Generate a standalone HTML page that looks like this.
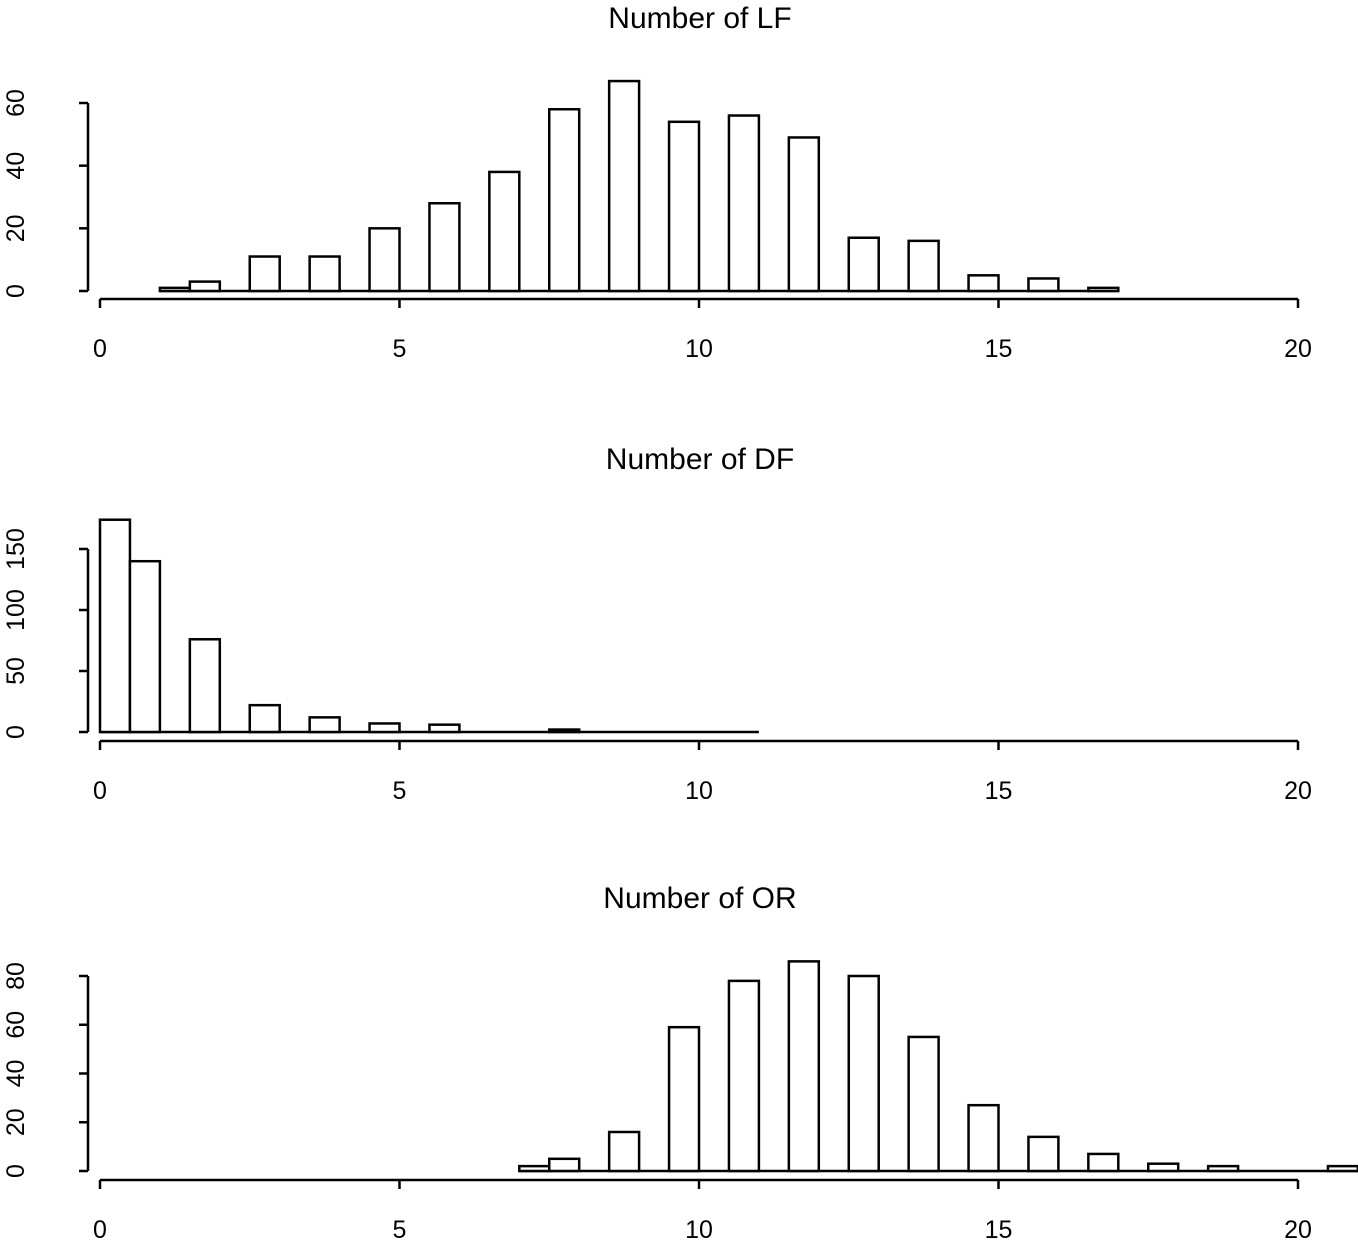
<!DOCTYPE html>
<html><head><meta charset="utf-8"><style>
html,body{margin:0;padding:0;background:#fff;}
svg{display:block;font-family:"Liberation Sans",sans-serif;}
</style></head><body>
<svg id="chart" width="1358" height="1243" xmlns="http://www.w3.org/2000/svg"></svg>
<script>
// Data
const lfStart = 1;
const lfCounts = [1,3,0,11,0,11,0,20,0,28,0,38,0,58,0,67,0,54,0,56,0,49,0,17,0,16,0,5,0,4,0,1];
const dfStart = 0;
const dfCounts = [174,140,0,76,0,22,0,12,0,7,0,6,0,0,0,2,0,0,0,0,0,0];
const orStart = 7;
const orCounts = [2,5,0,16,0,59,0,78,0,86,0,80,0,55,0,27,0,14,0,7,0,3,0,2,0,0,0,2];
const binWidth = 0.5;
const xTicks = [0,5,10,15,20];
const lfYTicks = [0,20,40,60];
const dfYTicks = [0,50,100,150];
const orYTicks = [0,20,40,60,80];

const svg = document.getElementById('chart');
const NS = 'http://www.w3.org/2000/svg';
function mk(tag, attrs){const e=document.createElementNS(NS,tag);for(const k in attrs)e.setAttribute(k,attrs[k]);svg.appendChild(e);return e;}
const xScale = v => 100 + v*59.9;

const panels = [
 {name:'lf', title:'Number of LF', start:lfStart, counts:lfCounts, yTicks:lfYTicks, y0:291, ymaxVal:60, ymaxPx:103, axisY:299, titleY:28},
 {name:'df', title:'Number of DF', start:dfStart, counts:dfCounts, yTicks:dfYTicks, y0:732, ymaxVal:150, ymaxPx:549, axisY:741, titleY:469},
 {name:'or', title:'Number of OR', start:orStart, counts:orCounts, yTicks:orYTicks, y0:1171, ymaxVal:80, ymaxPx:976, axisY:1180, titleY:908}
];

panels.forEach(p=>{
  const yScale = v => p.y0 - v*(p.y0-p.ymaxPx)/p.ymaxVal;
  const t = mk('text',{x:700,y:p.titleY,'text-anchor':'middle','font-size':30,fill:'#000'});
  t.textContent = p.title;
  
  
  const bl = mk('line',{x1:xScale(p.start),x2:xScale(p.start+p.counts.length*binWidth),y1:yScale(0),y2:yScale(0),stroke:'#000','stroke-width':2.5});
  
  
  p.counts.forEach((c,i)=>{
    const x0 = xScale(p.start + i*binWidth), x1 = xScale(p.start+(i+1)*binWidth);
    const r = mk('rect',{x:x0,y:yScale(c),width:x1-x0,height:Math.max(yScale(0)-yScale(c),0),fill:'#fff',stroke:'#000','stroke-width':2.5});
    
    
  });
  const xa = mk('line',{x1:xScale(xTicks[0]),x2:xScale(xTicks[xTicks.length-1]),y1:p.axisY,y2:p.axisY,stroke:'#000','stroke-width':2.5});
  
  
  xTicks.forEach(v=>{
    mk('line',{x1:xScale(v),x2:xScale(v),y1:p.axisY,y2:p.axisY+9,stroke:'#000','stroke-width':2.5});
    const l = mk('text',{x:xScale(v),y:p.axisY+58,'text-anchor':'middle','font-size':25,fill:'#000'});
    l.textContent = v;
    
    
  });
  const ya = mk('line',{x1:88,x2:88,y1:yScale(p.yTicks[0]),y2:yScale(p.yTicks[p.yTicks.length-1]),stroke:'#000','stroke-width':2.5});
  
  
  p.yTicks.forEach(v=>{
    const y=yScale(v);
    mk('line',{x1:79,x2:88,y1:y,y2:y,stroke:'#000','stroke-width':2.5});
    const l = mk('text',{x:24,y:y,'text-anchor':'middle','font-size':25,fill:'#000',transform:`rotate(-90 24 ${y})`});
    l.textContent = v;
    
    
  });
});
</script>
</body></html>
